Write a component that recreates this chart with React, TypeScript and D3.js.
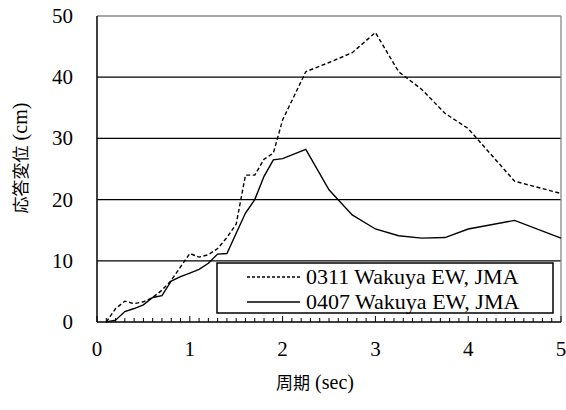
import React from "react";
import * as d3 from "d3";

const periods = [0.1, 0.2, 0.3, 0.4, 0.5, 0.6, 0.7, 0.8, 0.9, 1.0, 1.1, 1.2, 1.3, 1.4, 1.5, 1.6, 1.7, 1.8, 1.9, 2.0, 2.25, 2.5, 2.75, 3.0, 3.25, 3.5, 3.75, 4.0, 4.5, 5.0];
const series0311 = [0, 2.2, 3.4, 3.0, 3.3, 4.0, 5.2, 6.8, 9.0, 11.2, 10.6, 11.0, 12.0, 13.8, 16.0, 24.0, 24.0, 26.6, 27.6, 33.0, 40.9, 42.4, 44.0, 47.3, 40.9, 38.0, 34.1, 31.6, 23.0, 21.0];
const series0407 = [0, 0.3, 1.7, 2.2, 2.8, 4.0, 4.3, 6.7, 7.4, 8.0, 8.6, 9.6, 11.1, 11.2, 14.5, 17.8, 20.0, 23.8, 26.5, 26.7, 28.2, 21.6, 17.5, 15.2, 14.1, 13.7, 13.8, 15.2, 16.6, 13.7];
const legendLabels = ["0311 Wakuya EW, JMA", "0407 Wakuya EW, JMA"];
const xTicks = [0, 1, 2, 3, 4, 5];
const yTicks = [0, 10, 20, 30, 40, 50];

const W = 566, H = 410;
const L = 97, R = 561, T = 16, B = 322;
const SERIF = "Liberation Serif";
const CJK = "Noto Sans CJK JP";

export default function App() {
  const x = d3.scaleLinear().domain([0, 5]).range([L, R]);
  const y = d3.scaleLinear().domain([0, 50]).range([B, T]);
  const line = d3.line<number>().x((_, i) => x(periods[i])).y((v) => y(v));
  const minor = d3.range(0, 51).map((i) => i / 10);
  return (
    <svg width={W} height={H} style={{ position: "absolute", left: 0, top: 0 }}>
      <rect x={0} y={0} width={W} height={H} fill="#fff" />
      {yTicks.filter((t) => t > 0 && t < 50).map((t) => (
        <line key={t} x1={L} x2={R} y1={y(t)} y2={y(t)} stroke="#000" strokeWidth={1.3} />
      ))}
      <line x1={L} x2={R} y1={y(50)} y2={y(50)} stroke="#888" strokeWidth={1.3} />
      <line x1={R} x2={R} y1={T} y2={B} stroke="#888" strokeWidth={1.3} />
      <path d={line(series0311) || ""} fill="none" stroke="#000" strokeWidth={1.4} strokeDasharray="4,2.5" />
      <path d={line(series0407) || ""} fill="none" stroke="#000" strokeWidth={1.4} />
      <line x1={L} x2={L} y1={T} y2={B} stroke="#000" strokeWidth={1.5} />
      <line x1={L} x2={R} y1={B} y2={B} stroke="#000" strokeWidth={1.5} />
      {minor.map((t, i) => (
        <line key={i} x1={x(t)} x2={x(t)} y1={B} y2={B - (i % 10 === 0 ? 6 : 4)} stroke="#000" strokeWidth={1} />
      ))}
      {yTicks.map((t) => (
        <text key={t} x={73} y={y(t) + 7} textAnchor="end" style={{ fontFamily: SERIF }} fontSize={21}>{t}</text>
      ))}
      {xTicks.map((t) => (
        <text key={t} x={x(t)} y={356} textAnchor="middle" style={{ fontFamily: SERIF }} fontSize={21}>{t}</text>
      ))}
      <text x={315} y={389} textAnchor="middle">
        <tspan style={{ fontFamily: CJK }} fontSize={17}>周期</tspan>
        <tspan style={{ fontFamily: SERIF }} fontSize={20}> (sec)</tspan>
      </text>
      <text transform={`translate(27, 158) rotate(-90)`} textAnchor="middle">
        <tspan style={{ fontFamily: CJK }} fontSize={17}>応答変位</tspan>
        <tspan style={{ fontFamily: SERIF }} fontSize={20}> (cm)</tspan>
      </text>
      <rect x={217} y={263} width={336} height={50} fill="#fff" stroke="#000" strokeWidth={1.5} />
      {legendLabels.map((lab, i) => {
        const yy = 277 + i * 25;
        return (
          <g key={lab}>
            <line x1={247} x2={300} y1={yy} y2={yy} stroke="#000" strokeWidth={1.3} strokeDasharray={i === 0 ? "3,2" : undefined} />
            <text x={306} y={yy + 7} style={{ fontFamily: SERIF }} fontSize={22}>{lab}</text>
          </g>
        );
      })}
    </svg>
  );
}
